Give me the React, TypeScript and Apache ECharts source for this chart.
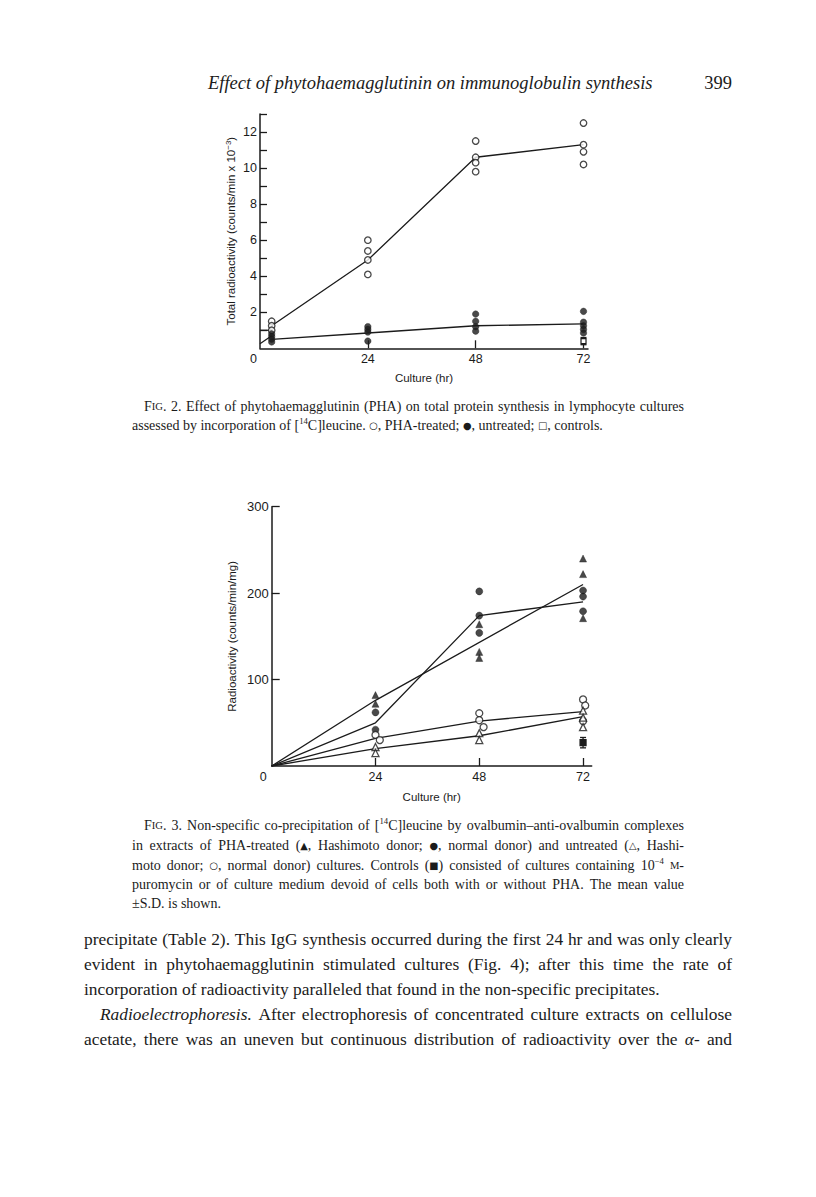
import React, { useEffect, useRef } from 'react';
import * as echarts from 'echarts';

// ---------------- Fig. 2 data (culture hr, counts/min x 10^-3) ----------------
const fig2XLabels = [0, 24, 48, 72];
const fig2XTicks = [24, 48, 72];
const fig2YTicks = [1, 2, 3, 4, 5, 6, 7, 8, 9, 10, 11, 12, 13];
const fig2YLabels = [2, 4, 6, 8, 10, 12];
const fig2PhaPoints = [
  [2.6, 1.5], [2.6, 1.25], [2.6, 1.0],
  [24, 6.0], [24, 5.4], [24, 4.9], [24, 4.1],
  [48, 11.5], [48, 10.6], [48, 10.3], [48, 9.8],
  [72, 12.5], [72, 11.3], [72, 10.9], [72, 10.2],
];
const fig2PhaLine = [[2.6, 1.25], [24, 4.9], [48, 10.6], [72, 11.3]];
const fig2UntreatedPoints = [
  [2.6, 0.8], [2.6, 0.65], [2.6, 0.5], [2.6, 0.35],
  [24, 1.2], [24, 1.05], [24, 0.9], [24, 0.4],
  [48, 1.9], [48, 1.5], [48, 1.2], [48, 0.95],
  [72, 2.05], [72, 1.45], [72, 1.25], [72, 1.05], [72, 0.85],
];
const fig2UntreatedLine = [[2.6, 0.5], [24, 0.85], [48, 1.25], [72, 1.35]];
const fig2StartLineA = [[0, 1.0], [2.6, 1.0]];
const fig2StartLineB = [[0, 0.25], [2.6, 0.7]];
const fig2Controls = [[72, 0.4, 0.2, 0]]; // hr, mean, sd, filled?

// ---------------- Fig. 3 data (culture hr, counts/min/mg) ----------------
const fig3XLabels = [0, 24, 48, 72];
const fig3XTicks = [24, 48, 72];
const fig3YTicks = [100, 200, 300];
const fig3HashPhaPoints = [[24, 82], [24, 72], [48, 164], [48, 132], [48, 125], [72, 240], [72, 222], [72, 171]];
const fig3HashPhaLine = [[0, 0], [24, 76], [72, 210]];
const fig3NormPhaPoints = [[24, 62], [24, 42], [48, 202], [48, 174], [48, 154], [72, 203], [72, 196], [72, 179]];
const fig3NormPhaLine = [[0, 0], [24, 50], [48, 174], [72, 190]];
const fig3NormUntrPoints = [[24, 36], [25, 30], [48, 61], [48, 53], [49, 45], [72, 77], [72.5, 70], [72, 52]];
const fig3NormUntrLine = [[0, 0], [24, 32], [48, 52], [72, 63]];
const fig3HashUntrPoints = [[24, 22], [24, 15], [48, 38], [48, 30], [72, 64], [72, 56], [72, 45]];
const fig3HashUntrLine = [[0, 0], [24, 20], [48, 35], [72, 57]];
const fig3Controls = [[72, 27, 6, 1]];

// ---------------- Page text ----------------
const headerText = 'Effect of phytohaemagglutinin on immunoglobulin synthesis';
const pageNumber = '399';
const fig2Caption = [
  'F{sc|IG}. 2. Effect of phytohaemagglutinin (PHA) on total protein synthesis in lymphocyte cultures',
  'assessed by incorporation of [{sup|14}C]leucine. {sym|○}, PHA-treated; {sym|●}, untreated; {sym|□}, controls.',
];
const fig3Caption = [
  'F{sc|IG}. 3. Non-specific co-precipitation of [{sup|14}C]leucine by ovalbumin–anti-ovalbumin complexes',
  'in extracts of PHA-treated ({sym|▲}, Hashimoto donor; {sym|●}, normal donor) and untreated ({sym|△}, Hashi-',
  'moto donor; {sym|○}, normal donor) cultures. Controls ({sym|■}) consisted of cultures containing 10{sup|−4} {sc|M}-',
  'puromycin or of culture medium devoid of cells both with or without PHA. The mean value',
  '±S.D. is shown.',
];
const bodyText = [
  'precipitate (Table 2). This IgG synthesis occurred during the first 24 hr and was only clearly',
  'evident in phytohaemagglutinin stimulated cultures (Fig. 4); after this time the rate of',
  'incorporation of radioactivity paralleled that found in the non-specific precipitates.',
  '{i|Radioelectrophoresis.} After electrophoresis of concentrated culture extracts on cellulose',
  'acetate, there was an uneven but continuous distribution of radioactivity over the {i|α}- and',
];

const SERIF = '"Liberation Serif", "Times New Roman", serif';
const SANS = '"Liberation Sans", Arial, sans-serif';
const SYM = '"DejaVu Sans", sans-serif';
const INK = '#1b1b1b';

const BODY_L = 84;
const BODY_R = 732;
const CAP_L = 132;
const CAP_R = 684;

function makeRich(size: number) {
  const lh = Math.round(size * 1.3);
  return {
    i: { fontStyle: 'italic', fontSize: size, fontFamily: SERIF, lineHeight: lh, fill: INK },
    sc: { fontSize: size * 0.76, fontFamily: SERIF, lineHeight: lh, fill: INK },
    sym: { fontSize: size * 0.7, fontFamily: SYM, lineHeight: lh, fill: INK },
    sup: { fontSize: size * 0.62, fontFamily: SERIF, lineHeight: size * 0.7, verticalAlign: 'top', fill: INK },
  };
}

let measureCtx: CanvasRenderingContext2D | null = null;
function measure(text: string, st: any) {
  if (!measureCtx) measureCtx = document.createElement('canvas').getContext('2d');
  const c = measureCtx as CanvasRenderingContext2D;
  c.font = `${st.fontStyle || 'normal'} normal ${st.fontSize}px ${st.fontFamily}`;
  return c.measureText(text).width;
}

function measureWord(word: string, size: number) {
  const rich: any = makeRich(size);
  const base = { fontSize: size, fontFamily: SERIF };
  const re = /\{(\w+)\|([^}]*)\}/g;
  let w = 0;
  let last = 0;
  let m: RegExpExecArray | null;
  while ((m = re.exec(word))) {
    if (m.index > last) w += measure(word.slice(last, m.index), base);
    w += measure(m[2], rich[m[1]]);
    last = re.lastIndex;
  }
  if (last < word.length) w += measure(word.slice(last), base);
  return w;
}

function textEl(text: string, x: number, y: number, size: number, extra: any = {}) {
  return {
    type: 'text',
    x,
    y,
    silent: true,
    style: {
      text,
      fontSize: size,
      fontFamily: SERIF,
      lineHeight: Math.round(size * 1.3),
      fill: INK,
      align: 'left',
      verticalAlign: 'middle',
      textAlign: 'left',
      textVerticalAlign: 'middle',
      rich: makeRich(size),
      ...extra,
    },
  };
}

function lineEls(text: string, x: number, right: number, y: number, size: number, justify: boolean) {
  if (!justify) return [textEl(text, x, y, size)];
  const words = text.split(' ');
  const widths = words.map((w) => measureWord(w, size));
  const total = widths.reduce((a, b) => a + b, 0);
  const gap = (right - x - total) / (words.length - 1);
  const out: any[] = [];
  let cx = x;
  words.forEach((w, i) => {
    out.push(textEl(w, cx, y, size));
    cx += widths[i] + gap;
  });
  return out;
}

function paragraphEls(
  lines: string[], ys: number[], size: number, justify: boolean[], indent: number[], left: number, right: number
) {
  const out: any[] = [];
  lines.forEach((t, i) => {
    out.push(...lineEls(t, left + indent[i], right, ys[i], size, justify[i]));
  });
  return out;
}

function errorBarSeries(data: number[][], xi: number, yi: number, size: number) {
  return {
    type: 'custom',
    xAxisIndex: xi,
    yAxisIndex: yi,
    data,
    z: 5,
    renderItem: (_p: any, api: any) => {
      const x = api.value(0);
      const m = api.value(1);
      const s = api.value(2);
      const filled = api.value(3);
      const top = api.coord([x, m + s]);
      const bot = api.coord([x, m - s]);
      const c = api.coord([x, m]);
      const st = { stroke: INK, lineWidth: 1.3 };
      return {
        type: 'group',
        children: [
          { type: 'line', shape: { x1: top[0], y1: top[1], x2: bot[0], y2: bot[1] }, style: st },
          { type: 'line', shape: { x1: top[0] - 3, y1: top[1], x2: top[0] + 3, y2: top[1] }, style: st },
          { type: 'line', shape: { x1: bot[0] - 3, y1: bot[1], x2: bot[0] + 3, y2: bot[1] }, style: st },
          {
            type: 'rect',
            shape: { x: c[0] - size / 2, y: c[1] - size / 2, width: size, height: size },
            style: { fill: filled ? INK : '#fff', stroke: INK, lineWidth: 1.2 },
          },
        ],
      };
    },
  };
}

function lineSeries(data: number[][], xi: number, yi: number) {
  return {
    type: 'line',
    xAxisIndex: xi,
    yAxisIndex: yi,
    data,
    symbol: 'none',
    z: 2,
    lineStyle: { color: INK, width: 1.3 },
  };
}

function scatterSeries(data: number[][], xi: number, yi: number, symbol: string, filled: boolean, size: number) {
  return {
    type: 'scatter',
    xAxisIndex: xi,
    yAxisIndex: yi,
    data,
    symbol,
    symbolSize: size,
    z: 4,
    itemStyle: filled
      ? { color: INK, borderColor: INK, borderWidth: 0.5 }
      : { color: '#fff', borderColor: INK, borderWidth: 1.3 },
  };
}

function xAxis(grid: number, max: number, labels: number[], ticks: number[], zeroShift: number, name: string, nameGap: number) {
  return {
    type: 'value',
    gridIndex: grid,
    min: 0,
    max,
    splitLine: { show: false },
    axisLine: { show: true, lineStyle: { color: INK, width: 1.5 } },
    axisTick: { show: true, inside: true, length: 8, customValues: ticks, lineStyle: { color: INK, width: 1.3 } },
    axisLabel: {
      show: true,
      customValues: labels,
      margin: 4,
      color: INK,
      fontFamily: SANS,
      fontSize: 12.5,
      formatter: (v: number) => (v === 0 ? '{z|0}' : String(v)),
      rich: { z: { padding: [0, zeroShift * 2, 0, 0], fontFamily: SANS, fontSize: 12.5, color: INK } },
    },
    name,
    nameLocation: 'middle',
    nameGap,
    nameTextStyle: { fontFamily: SANS, fontSize: 11.5, color: INK },
  };
}

export default function App() {
  const ref = useRef<HTMLDivElement>(null);
  useEffect(() => {
    if (!ref.current) return;
    const chart = echarts.init(ref.current, null, { renderer: 'svg' });

    const graphic: any[] = [];
    // running header
    graphic.push(textEl(headerText, 208, 83, 18.5, { fontStyle: 'italic' }));
    graphic.push(textEl(pageNumber, BODY_R, 83, 18.5, { align: 'right', textAlign: 'right' }));
    // captions and body
    graphic.push(...paragraphEls(fig2Caption, [406, 425], 14, [true, false], [12, 0], CAP_L, CAP_R));
    graphic.push(
      ...paragraphEls(
        fig3Caption, [825, 845, 865, 884, 903], 14,
        [true, true, true, true, false], [12, 0, 0, 0, 0], CAP_L, CAP_R
      )
    );
    graphic.push(
      ...paragraphEls(
        bodyText, [939, 964, 989, 1014, 1039], 17.4,
        [true, true, false, true, true], [0, 0, 0, 16, 0], BODY_L, BODY_R
      )
    );

    const option: any = {
      animation: false,
      backgroundColor: '#ffffff',
      grid: [
        { left: 260, top: 114, width: 328, height: 234.3 },
        { left: 271.7, top: 506.7, width: 320, height: 259.3 },
      ],
      xAxis: [
        xAxis(0, 73, fig2XLabels, fig2XTicks, 6.5, 'Culture (hr)', 24),
        xAxis(1, 74, fig3XLabels, fig3XTicks, 8.5, 'Culture (hr)', 25),
      ],
      yAxis: [
        {
          type: 'value',
          gridIndex: 0,
          min: 0,
          max: 13,
          splitLine: { show: false },
          axisLine: { show: true, lineStyle: { color: INK, width: 1.5 } },
          axisTick: { show: true, inside: true, length: 7, customValues: fig2YTicks, lineStyle: { color: INK, width: 1.3 } },
          axisLabel: { show: true, customValues: fig2YLabels, margin: 3, color: INK, fontFamily: SANS, fontSize: 12.5 },
          name: 'Total radioactivity (counts/min x 10{s|−3})',
          nameLocation: 'middle',
          nameGap: 22,
          nameTextStyle: {
            fontFamily: SANS,
            fontSize: 11.5,
            color: INK,
            lineHeight: 14,
            rich: { s: { fontFamily: SANS, fontSize: 8, lineHeight: 8, verticalAlign: 'top', color: INK } },
          },
        },
        {
          type: 'value',
          gridIndex: 1,
          min: 0,
          max: 300,
          splitLine: { show: false },
          axisLine: { show: true, lineStyle: { color: INK, width: 1.5 } },
          axisTick: { show: true, inside: true, length: 8, customValues: fig3YTicks, lineStyle: { color: INK, width: 1.3 } },
          axisLabel: { show: true, customValues: fig3YTicks, margin: 3, color: INK, fontFamily: SANS, fontSize: 13 },
          name: 'Radioactivity (counts/min/mg)',
          nameLocation: 'middle',
          nameGap: 34,
          nameTextStyle: { fontFamily: SANS, fontSize: 11.5, color: INK },
        },
      ],
      series: [
        // Fig 2
        lineSeries(fig2PhaLine, 0, 0),
        lineSeries(fig2UntreatedLine, 0, 0),
        lineSeries(fig2StartLineA, 0, 0),
        lineSeries(fig2StartLineB, 0, 0),
        scatterSeries(fig2PhaPoints, 0, 0, 'circle', false, 6.5),
        scatterSeries(fig2UntreatedPoints, 0, 0, 'circle', true, 6.5),
        errorBarSeries(fig2Controls, 0, 0, 5),
        // Fig 3
        lineSeries(fig3HashPhaLine, 1, 1),
        lineSeries(fig3NormPhaLine, 1, 1),
        lineSeries(fig3NormUntrLine, 1, 1),
        lineSeries(fig3HashUntrLine, 1, 1),
        scatterSeries(fig3HashPhaPoints, 1, 1, 'triangle', true, 7),
        scatterSeries(fig3NormPhaPoints, 1, 1, 'circle', true, 7),
        scatterSeries(fig3NormUntrPoints, 1, 1, 'circle', false, 7),
        scatterSeries(fig3HashUntrPoints, 1, 1, 'triangle', false, 7),
        errorBarSeries(fig3Controls, 1, 1, 6),
      ],
      graphic,
    };
    chart.setOption(option);
    return () => chart.dispose();
  }, []);
  return <div ref={ref} style={{ position: 'absolute', left: 0, top: 0, width: 816, height: 1197, background: '#fff' }} />;
}
